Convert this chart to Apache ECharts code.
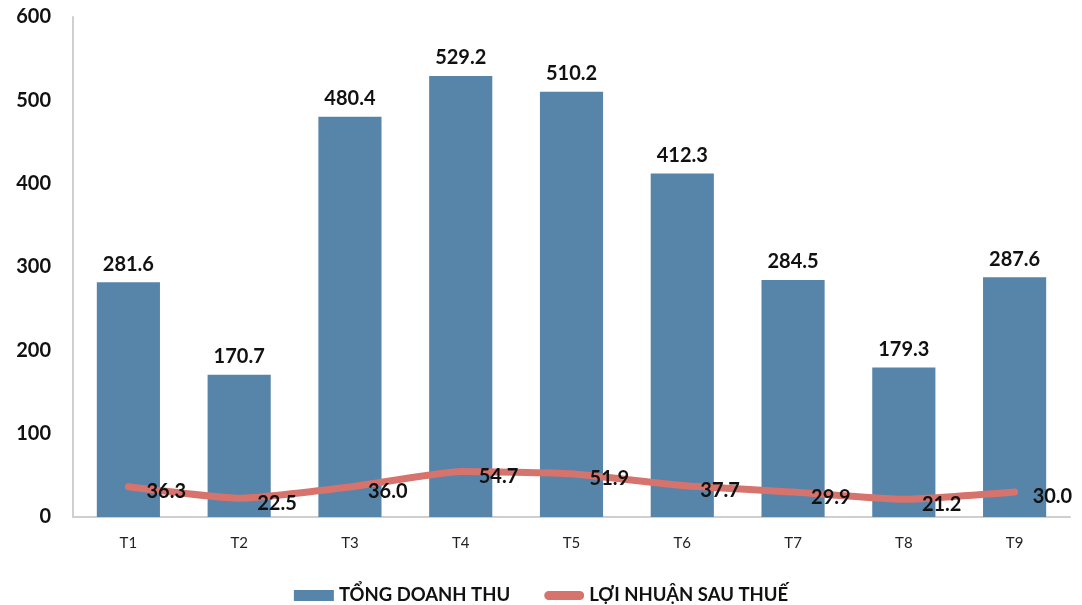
<!DOCTYPE html>
<html><head><meta charset="utf-8">
<script src="https://cdn.jsdelivr.net/npm/echarts@6/dist/echarts.min.js"></script>
<style>html,body{margin:0;padding:0;background:#fff}#c{width:1082px;height:605px}</style>
</head><body><div id="c"></div>
<script>
var categories = ['T1','T2','T3','T4','T5','T6','T7','T8','T9'];
var revenue = [281.6, 170.7, 480.4, 529.2, 510.2, 412.3, 284.5, 179.3, 287.6];
var profit = [36.3, 22.5, 36.0, 54.7, 51.9, 37.7, 29.9, 21.2, 30.0];
var yTicks = [0, 100, 200, 300, 400, 500, 600];
var seriesNames = ['TỔNG DOANH THU', 'LỢI NHUẬN SAU THUẾ'];

var chart = echarts.init(document.getElementById('c'));
var font = 'Lato, "Open Sans", sans-serif';
var red = '#d6736c';
chart.setOption({
  animation: false,
  grid: {left: 73, right: 12, top: 17, bottom: 88},
  legend: {
    top: 581, left: 'center', itemGap: 34, itemWidth: 40, itemHeight: 11,
    textStyle: {fontFamily: font, fontWeight: 'bold', fontSize: 18.5, color: '#111'},
    data: [
      {name: seriesNames[0], icon: 'rect'},
      {name: seriesNames[1], icon: 'path://M5,0 H39 A5,5 0 0 1 39,10 H5 A5,5 0 0 1 5,0 Z', itemStyle: {color: red}}
    ]
  },
  xAxis: {
    type: 'category', data: categories,
    axisLine: {lineStyle: {color: '#cfcfcf', width: 2}},
    axisTick: {show: false},
    axisLabel: {fontFamily: font, fontSize: 15, color: '#222', margin: 19}
  },
  yAxis: {
    type: 'value', min: yTicks[0], max: yTicks[yTicks.length-1], interval: 100,
    axisLine: {show: true, lineStyle: {color: '#cfcfcf', width: 2}},
    axisTick: {show: false},
    splitLine: {show: false},
    axisLabel: {fontFamily: font, fontWeight: 'bold', fontSize: 20, color: '#111', margin: 22}
  },
  series: [
    {
      name: seriesNames[0], type: 'bar', data: revenue, barCategoryGap: '43%',
      itemStyle: {color: '#5784a9'},
      label: {show: true, position: 'top', distance: 8, formatter: function(p){return p.value.toFixed(1);},
        fontFamily: font, fontWeight: 'bold', fontSize: 20, color: '#111'}
    },
    {
      name: seriesNames[1], type: 'line', data: profit, smooth: 0.15,
      symbol: 'circle', symbolSize: 0.1, showSymbol: true,
      lineStyle: {color: red, width: 7, cap: 'round'},
      itemStyle: {color: red},
      label: {show: true, position: 'right', distance: 18, offset: [0, 5], formatter: function(p){return p.value.toFixed(1);},
        fontFamily: font, fontWeight: 'bold', fontSize: 20, color: '#111'}
    }
  ]
});
</script></body></html>
